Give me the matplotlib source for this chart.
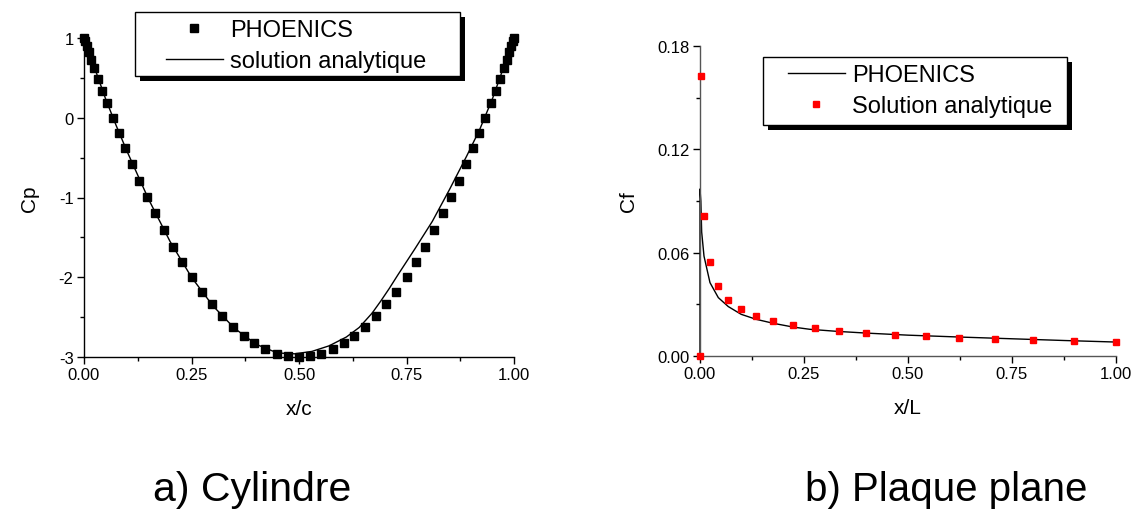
import numpy as np
import matplotlib
matplotlib.use('Agg')
import matplotlib.pyplot as plt
from matplotlib.lines import Line2D
from matplotlib.patches import Rectangle
from matplotlib.ticker import MultipleLocator, FormatStrFormatter

plt.rcParams['font.family'] = ['Liberation Sans', 'DejaVu Sans']

# a) Cylindre : Cp le long de la corde
cyl_x_phoenics = [0.000, 0.003, 0.006, 0.011, 0.017, 0.024, 0.033, 0.043, 0.054, 0.067,
                  0.081, 0.096, 0.112, 0.129, 0.147, 0.166, 0.186, 0.206, 0.228, 0.250,
                  0.274, 0.298, 0.322, 0.346, 0.371, 0.396, 0.422, 0.448, 0.474, 0.500,
                  0.526, 0.552, 0.578, 0.604, 0.629, 0.654, 0.678, 0.702, 0.726, 0.750,
                  0.772, 0.794, 0.814, 0.834, 0.853, 0.871, 0.888, 0.904, 0.919, 0.933,
                  0.946, 0.957, 0.967, 0.976, 0.983, 0.989, 0.994, 0.997, 1.000]
cyl_cp_phoenics = [1.00, 0.96, 0.90, 0.83, 0.73, 0.62, 0.49, 0.34, 0.18, 0.00,
                   -0.19, -0.38, -0.58, -0.79, -0.99, -1.20, -1.41, -1.62, -1.81, -2.00,
                   -2.18, -2.34, -2.49, -2.62, -2.74, -2.83, -2.90, -2.96, -2.99, -3.00,
                   -2.99, -2.96, -2.90, -2.83, -2.74, -2.62, -2.49, -2.34, -2.18, -2.00,
                   -1.81, -1.62, -1.41, -1.20, -0.99, -0.79, -0.58, -0.38, -0.19, 0.00,
                   0.18, 0.34, 0.49, 0.62, 0.73, 0.83, 0.90, 0.96, 1.00]

cyl_x_analytic = [0.000, 0.010, 0.025, 0.050, 0.075, 0.100, 0.150, 0.200, 0.250, 0.300,
                  0.350, 0.400, 0.450, 0.490, 0.530, 0.570, 0.610, 0.640, 0.670, 0.690,
                  0.710, 0.730, 0.770, 0.810, 0.850, 0.890, 0.920, 0.950, 0.975, 1.000]
cyl_cp_analytic = [1.00, 0.84, 0.62, 0.24, -0.10, -0.42, -1.02, -1.55, -2.00, -2.36,
                   -2.64, -2.84, -2.95, -2.96, -2.93, -2.86, -2.75, -2.63, -2.45, -2.30,
                   -2.14, -1.97, -1.64, -1.30, -0.90, -0.48, -0.15, 0.24, 0.62, 1.00]

# b) Plaque plane : Cf le long de la plaque
pl_x_phoenics = [0.000, 0.000, 0.002, 0.004, 0.0096, 0.024, 0.044, 0.068, 0.099, 0.135,
                 0.176, 0.224, 0.264, 0.330, 0.400, 0.500, 0.625, 0.750, 0.875, 1.000]
pl_cf_phoenics = [0.0, 0.097, 0.090, 0.072, 0.058, 0.0426, 0.0339, 0.0287, 0.0242, 0.0213,
                  0.0190, 0.0168, 0.0155, 0.0143, 0.0133, 0.0121, 0.0110, 0.0100, 0.0090, 0.0081]

pl_x_analytic = [0.000, 0.0024, 0.0096, 0.024, 0.044, 0.068, 0.0986, 0.1346, 0.176, 0.224,
                 0.276, 0.335, 0.399, 0.469, 0.543, 0.623, 0.709, 0.801, 0.899, 1.000]
pl_cf_analytic = [0.0, 0.1625, 0.0813, 0.0543, 0.0407, 0.0325, 0.0271, 0.0232, 0.0202, 0.0180,
                  0.0161, 0.0145, 0.0133, 0.0124, 0.0114, 0.0107, 0.0101, 0.0095, 0.0087, 0.0084]

W, H = 1134, 510
fig = plt.figure(figsize=(W / 100, H / 100), dpi=100)

ax1 = fig.add_axes([84 / W, 1 - 358 / H, 430 / W, 319 / H])
ax2 = fig.add_axes([700 / W, 1 - 357 / H, 416 / W, 310 / H])


def legend_box(x0, y0, x1, y1, handles, labels, x_handle, y_mid):
    """Boxed legend with a solid black drop shadow, pixel coords from top-left."""
    off = 5
    fig.add_artist(Rectangle(((x0 + off) / W, 1 - (y1 + off) / H), (x1 - x0) / W,
                             (y1 - y0) / H, transform=fig.transFigure,
                             facecolor='black', edgecolor='none', zorder=4))
    fig.add_artist(Rectangle((x0 / W, 1 - y1 / H), (x1 - x0) / W, (y1 - y0) / H,
                             transform=fig.transFigure, facecolor='white',
                             edgecolor='black', lw=1, zorder=5))
    leg = fig.legend(handles, labels, loc='center left',
                     bbox_to_anchor=(x_handle / W, 1 - y_mid / H),
                     bbox_transform=fig.transFigure, borderaxespad=0, borderpad=0,
                     fontsize=17, frameon=False, handlelength=2.4,
                     labelspacing=0.4, handletextpad=0.3)
    leg.set_zorder(6)
    return leg


# --- a) Cylindre
ax1.plot(cyl_x_phoenics, cyl_cp_phoenics, 's', color='black', ms=5.5,
         clip_on=False, zorder=3)
ax1.plot(cyl_x_analytic, cyl_cp_analytic, '-', color='black', lw=1, clip_on=False)
ax1.set_xlim(0, 1)
ax1.set_ylim(-3, 1)
ax1.xaxis.set_major_locator(MultipleLocator(0.25))
ax1.xaxis.set_minor_locator(MultipleLocator(0.125))
ax1.yaxis.set_major_locator(MultipleLocator(1))
ax1.yaxis.set_minor_locator(MultipleLocator(0.5))
ax1.xaxis.set_major_formatter(FormatStrFormatter('%.2f'))
ax1.yaxis.set_major_formatter(FormatStrFormatter('%d'))
ax1.set_xlabel('x/c', fontsize=15, labelpad=12)
ax1.set_ylabel('Cp', fontsize=15, labelpad=14)

h_sq_black = Line2D([], [], ls='none', marker='s', color='black', ms=5.5)
h_line = Line2D([], [], color='black', lw=1)
legend_box(135, 13, 460, 77, [h_sq_black, h_line],
           ['PHOENICS', 'solution analytique'], 166, 46.5)

# --- b) Plaque plane
ax2.plot(pl_x_phoenics, pl_cf_phoenics, '-', color='black', lw=1, clip_on=False)
ax2.plot(pl_x_analytic, pl_cf_analytic, 's', color='red', ms=5,
         clip_on=False, zorder=3)
ax2.set_xlim(0, 1)
ax2.set_ylim(0, 0.18)
ax2.xaxis.set_major_locator(MultipleLocator(0.25))
ax2.xaxis.set_minor_locator(MultipleLocator(0.125))
ax2.yaxis.set_major_locator(MultipleLocator(0.06))
ax2.yaxis.set_minor_locator(MultipleLocator(0.03))
ax2.xaxis.set_major_formatter(FormatStrFormatter('%.2f'))
ax2.yaxis.set_major_formatter(FormatStrFormatter('%.2f'))
ax2.set_xlabel('x/L', fontsize=15, labelpad=12)
ax2.set_ylabel('Cf', fontsize=15, labelpad=14)

h_sq_red = Line2D([], [], ls='none', marker='s', color='red', ms=5)
legend_box(763, 58, 1067, 126, [h_line, h_sq_red],
           ['PHOENICS', 'Solution analytique'], 788, 91.5)

for ax, spine_col in ((ax1, 'black'), (ax2, '#555555')):
    ax.spines['top'].set_visible(False)
    ax.spines['right'].set_visible(False)
    for s in ('left', 'bottom'):
        ax.spines[s].set_color(spine_col)
        ax.spines[s].set_linewidth(1)
    ax.tick_params(which='major', direction='out', length=5, width=1,
                   labelsize=12, color='black', pad=2.5)
    ax.tick_params(which='minor', direction='out', length=3, width=1, color='black')

fig.text(252 / W, 1 - 490 / H, 'a) Cylindre', fontsize=29.5, ha='center', va='center')
fig.text(946 / W, 1 - 490 / H, 'b) Plaque plane', fontsize=29, ha='center', va='center')

fig.savefig('out.png', dpi=100)
